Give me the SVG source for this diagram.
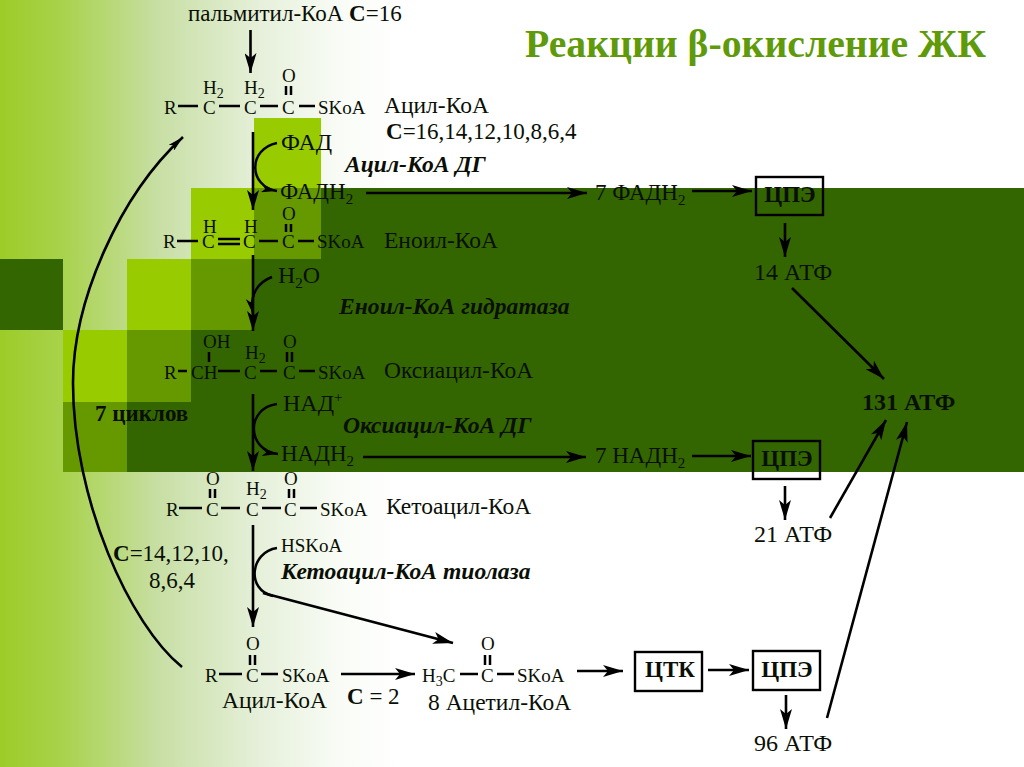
<svg xmlns="http://www.w3.org/2000/svg" width="1024" height="767" viewBox="0 0 1024 767">
<style>
text{font-family:"Liberation Serif","Times New Roman",serif;fill:#0a0f05}
.f{font-size:19px}.l{font-size:24px}.m{font-size:23px}.n{font-size:23.5px}
.sub{font-size:15px}.s2{font-size:14px}
.b{font-weight:bold}.i{font-weight:bold;font-style:italic;font-size:23.6px}
.bx{font-weight:bold;font-size:23px;text-anchor:middle}
.line{stroke:#000;stroke-width:2.6;fill:none}
.thin{stroke:#000;stroke-width:2.5;fill:none}
.box{fill:none;stroke:#000;stroke-width:2.4}
</style>
<defs>
<linearGradient id="bg" gradientUnits="userSpaceOnUse" x1="0" x2="400" y1="0" y2="0">
<stop offset="0" stop-color="#9ccc28"/><stop offset="0.15" stop-color="#a8d24a"/><stop offset="0.4" stop-color="#c8dfa5"/><stop offset="0.65" stop-color="#e6f0da"/><stop offset="0.85" stop-color="#f9fcf6"/><stop offset="1" stop-color="#fff"/>
</linearGradient>
<marker id="a" viewBox="0 0 20 12" refX="20" refY="6" markerWidth="20" markerHeight="12" markerUnits="userSpaceOnUse" orient="auto"><path d="M0 0L20 6L0 12L5 6Z" fill="#000"/></marker>
<marker id="s" viewBox="0 0 16 8" refX="16" refY="4" markerWidth="16" markerHeight="8" markerUnits="userSpaceOnUse" orient="auto"><path d="M0 0L16 4L0 8L4 4Z" fill="#000"/></marker>
</defs>
<g id="background">
<rect width="1024" height="767" fill="#fff"/>
<rect width="400" height="767" fill="url(#bg)"/>
<rect x="254" y="118" width="67" height="70" fill="#99cc00"/>
<rect x="191" y="188" width="833" height="284" fill="#336600"/>
<rect x="191" y="188" width="63" height="71" fill="#99cc00"/>
<rect x="254" y="188" width="67" height="71" fill="#669900"/>
<rect x="127" y="259" width="64" height="71" fill="#99cc00"/>
<rect x="191" y="259" width="63" height="71" fill="#669900"/>
<rect x="63" y="330" width="64" height="72" fill="#99cc00"/>
<rect x="127" y="330" width="64" height="72" fill="#669900"/>
<rect x="63" y="402" width="64" height="70" fill="#669900"/>
<rect x="127" y="402" width="64" height="70" fill="#336600"/>
<rect x="0" y="259" width="63" height="71" fill="#336600"/>
</g>
<g id="connectors">
<path class="line" d="M250.5 30V73" marker-end="url(#a)"/>
<path class="line" d="M253 132V210" marker-end="url(#a)"/>
<path class="thin" d="M277 143C248 149 248 186 277 191" marker-end="url(#s)"/>
<path class="line" d="M253 255V331" marker-end="url(#a)"/>
<path class="thin" d="M272 277C258 282 249 295 253 314" marker-end="url(#s)"/>
<path class="line" d="M253 394V471" marker-end="url(#a)"/>
<path class="thin" d="M277 404C246 408 246 450 278 454" marker-end="url(#s)"/>
<path class="line" d="M253 525V627" marker-end="url(#a)"/>
<path class="thin" d="M277 548C250 552 246 590 273 596"/>
<path class="line" d="M263 593L453 643" marker-end="url(#a)"/>
<path class="line" d="M182 667C130 625 73 500 73 383C73 300 120 195 183 137" marker-end="url(#s)"/>
<path class="line" d="M366 193H587" marker-end="url(#a)"/>
<path class="line" d="M692 191H752" marker-end="url(#a)"/>
<path class="line" d="M785 223V257" marker-end="url(#a)"/>
<path class="line" d="M792 288L884 379" marker-end="url(#a)"/>
<path class="line" d="M363 457H586" marker-end="url(#a)"/>
<path class="line" d="M692 456H751" marker-end="url(#a)"/>
<path class="line" d="M785 486V520" marker-end="url(#a)"/>
<path class="line" d="M830 518L886 420" marker-end="url(#a)"/>
<path class="line" d="M341 674H415" marker-end="url(#a)"/>
<path class="line" d="M577 671H623" marker-end="url(#a)"/>
<path class="line" d="M708 670H749" marker-end="url(#a)"/>
<path class="line" d="M786 695V729" marker-end="url(#a)"/>
<path class="line" d="M827 718L907 422" marker-end="url(#a)"/>
</g>
<g id="title"><text x="525" y="57" font-size="39.7" font-weight="bold" style="fill:#5f9a0a">Реакции β-окисление ЖК</text></g>
<g id="palmitoyl"><text class="m" x="188" y="21">пальмитил-КоА <tspan class="b">С</tspan>=16</text></g>
<g id="acyl1">
<text class="f" x="164" y="114">R</text><text class="f" x="203" y="114">C</text><text class="f" x="244" y="114">C</text><text class="f" x="282" y="114">C</text><text class="f" x="318" y="114">SKoA</text>
<text class="f" x="203" y="94">H<tspan class="s2" dy="4">2</tspan></text><text class="f" x="244" y="94">H<tspan class="s2" dy="4">2</tspan></text><text class="f" x="282" y="82">O</text>
<path class="thin" d="M178 106H198M219 106H240M260 106H278M299 106H315M286 86V95M291 86V95"/>
</g>
<text class="n" x="384" y="113">Ацил-КоА</text>
<text class="m" x="386" y="139"><tspan class="b">С</tspan>=16,14,12,10,8,6,4</text>
<g id="fad"><text class="l" x="281" y="150">ФАД</text><text class="m" x="280" y="199">ФАДН<tspan class="sub" dy="5">2</tspan></text><text class="i" x="345" y="172">Ацил-КоА ДГ</text></g>
<g id="enoyl">
<text class="f" x="163" y="248">R</text><text class="f" x="202" y="248">C</text><text class="f" x="243" y="248">C</text><text class="f" x="282" y="248">C</text><text class="f" x="317" y="248">SKoA</text>
<text class="f" x="203" y="233">H</text><text class="f" x="244" y="233">H</text><text class="f" x="282" y="220">O</text>
<path class="thin" d="M177 241H198M298 241H314M259 241H278M286 224V232M291 224V232M218 239H240M218 244H240"/>
</g>
<text class="n" x="384" y="248">Еноил-КоА</text>
<g id="h2o"><text class="l" x="278" y="283">H<tspan class="sub" dy="5">2</tspan><tspan dy="-5">O</tspan></text><text class="i" x="339" y="314">Еноил-КоА гидратаза</text></g>
<g id="hydroxyacyl">
<text class="f" x="164" y="379">R</text><text class="f" x="191" y="379">CH</text><text class="f" x="244" y="379">C</text><text class="f" x="283" y="379">C</text><text class="f" x="318" y="379">SKoA</text>
<text class="f" x="203" y="348">OH</text><text class="f" x="245" y="359">H<tspan class="s2" dy="4">2</tspan></text><text class="f" x="283" y="348">O</text>
<path class="thin" d="M178 371H187M218 371H240M260 371H277M299 371H315M209 352V362M287 352V362M292 352V362"/>
</g>
<text class="n" x="384" y="378">Оксиацил-КоА</text>
<text class="m b" x="95" y="421">7 циклов</text>
<g id="nad"><text class="l" x="283" y="411">НАД<tspan class="sub" dy="-9">+</tspan></text><text class="m" x="281" y="461">НАДН<tspan class="sub" dy="5">2</tspan></text><text class="i" x="343" y="433">Оксиацил-КоА ДГ</text></g>
<g id="ketoacyl">
<text class="f" x="166" y="516">R</text><text class="f" x="206" y="516">C</text><text class="f" x="246" y="516">C</text><text class="f" x="284" y="516">C</text><text class="f" x="320" y="516">SKoA</text>
<text class="f" x="206" y="485">O</text><text class="f" x="246" y="495">H<tspan class="s2" dy="4">2</tspan></text><text class="f" x="284" y="485">O</text>
<path class="thin" d="M179 508H202M221 508H240M262 508H281M300 508H317M210 489V498M215 489V498M289 489V498M294 489V498"/>
</g>
<text class="n" x="386" y="514">Кетоацил-КоА</text>
<text class="m" x="113" y="561"><tspan class="b">С</tspan>=14,12,10,</text><text class="m" x="149" y="588">8,6,4</text>
<g id="thiolase"><text class="f" x="281" y="552">HSKoA</text><text class="i" x="281" y="579">Кетоацил-КоА тиолаза</text></g>
<g id="acyl2">
<text class="f" x="205" y="682">R</text><text class="f" x="246" y="682">C</text><text class="f" x="282" y="682">SKoA</text><text class="f" x="246" y="650">O</text>
<path class="thin" d="M219 674H242M261 674H278M250 655V665M255 655V665"/>
</g>
<text class="n" x="222" y="708">Ацил-КоА</text>
<text class="m" x="347" y="704"><tspan class="b">С</tspan> = 2</text>
<g id="acetyl">
<text class="f" x="422" y="682">H<tspan class="s2" dy="4">3</tspan><tspan dy="-4">C</tspan></text><text class="f" x="481" y="682">C</text><text class="f" x="517" y="682">SKoA</text><text class="f" x="481" y="650">O</text>
<path class="thin" d="M460 674H478M497 674H514M485 655V665M490 655V665"/>
</g>
<text class="n" x="428" y="710">8 Ацетил-КоА</text>
<g id="fadh7"><text class="m" x="595" y="200">7 ФАДН<tspan class="sub" dy="5">2</tspan></text></g>
<g id="cpe1"><rect class="box" x="756" y="177" width="67" height="38"/><text class="bx" x="790" y="202">ЦПЭ</text></g>
<text class="l" x="754" y="280">14 АТФ</text>
<text class="l b" x="862" y="410">131 АТФ</text>
<g id="nadh7"><text class="m" x="595" y="463">7 НАДН<tspan class="sub" dy="5">2</tspan></text></g>
<g id="cpe2"><rect class="box" x="753" y="441" width="67" height="38"/><text class="bx" x="787" y="466">ЦПЭ</text></g>
<text class="l" x="754" y="542">21 АТФ</text>
<g id="ctk"><rect class="box" x="635" y="652" width="67" height="39"/><text class="bx" x="670" y="677">ЦТК</text></g>
<g id="cpe3"><rect class="box" x="753" y="651" width="67" height="39"/><text class="bx" x="787" y="677">ЦПЭ</text></g>
<text class="l" x="754" y="751">96 АТФ</text>
</svg>
